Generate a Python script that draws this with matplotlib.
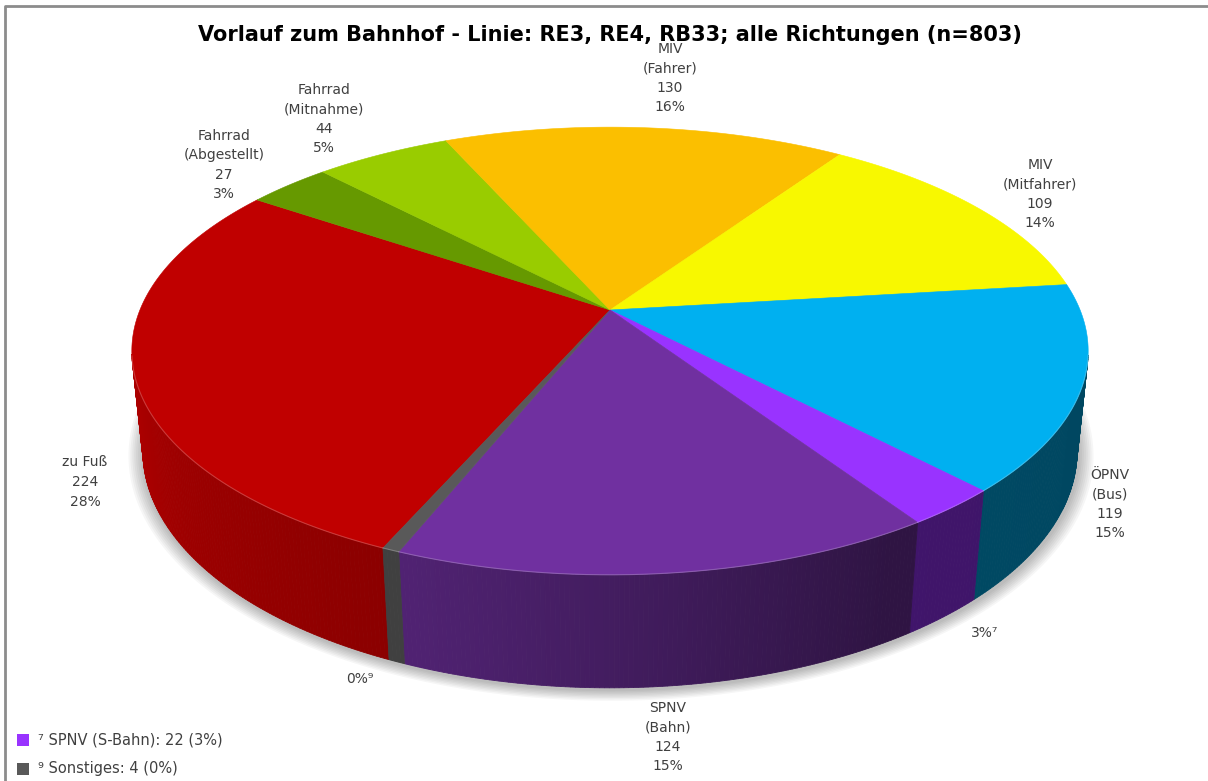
# -*- coding: utf-8 -*-
import numpy as np
import matplotlib.pyplot as plt
from matplotlib.patches import Polygon, Rectangle
import matplotlib.colors as mcolors

title = "Vorlauf zum Bahnhof - Linie: RE3, RE4, RB33; alle Richtungen (n=803)"
names = ["zu Fuß", "Fahrrad\n(Abgestellt)", "Fahrrad\n(Mitnahme)", "MIV\n(Fahrer)",
         "MIV\n(Mitfahrer)", "ÖPNV\n(Bus)", "SPNV (S-Bahn)", "SPNV\n(Bahn)", "Sonstiges"]
counts = [224, 27, 44, 130, 109, 119, 22, 124, 4]
footnotes = ["", "", "", "", "", "", "⁷", "", "⁹"]
colors = ["#C00000", "#669900", "#99CC00", "#FBBF00", "#F8F800",
          "#00B0F0", "#9933FF", "#7030A0", "#595959"]

# label centres (pixels)
label_pos = [(85, 482), (224, 165), (324, 119), (670, 78), (1040, 194),
             (1110, 504), (985, 633), (668, 737), (360, 679)]

# 3d view
cx, cy = 610, 310
F, D = 2280, 4.85
elev = np.radians(27.4)
h = 0.242
start = 246.3


def proj(X, Y, Z):
    yc = Y * np.sin(elev) + Z * np.cos(elev)
    d = D + Y * np.cos(elev) - Z * np.sin(elev)
    return cx + F * X / d, cy - F * yc / d


def shade(t):
    t = t % 360
    return np.interp(t, [190, 215, 248, 270, 300, 350], [0.92, 0.82, 0.72, 0.6, 0.42, 0.4])


total = sum(counts)
cum = np.concatenate([[0], np.cumsum(counts)])
t_hi = start - cum[:-1] * 360 / total
t_lo = start - cum[1:] * 360 / total

fig = plt.figure(figsize=(12.08, 7.81), dpi=100)
ax = fig.add_axes([0, 0, 1, 1])
ax.set_xlim(0, 1208)
ax.set_ylim(781, 0)
ax.axis('off')

# frame
ax.plot([5, 5, 1208], [790, 6, 6], color='#8c8c8c', lw=2, zorder=0)

# soft shadow
tt = np.radians(np.linspace(0, 360, 361))
for k in range(8, 0, -1):
    r = 1 + k * 0.004
    sx, sy = proj(r * np.cos(tt), r * np.sin(tt), -h)
    ax.add_patch(Polygon(np.c_[sx + 1, sy + 2], closed=True, fc='#000000',
                         ec='none', alpha=0.035, zorder=1))

# side walls
for i in range(len(counts)):
    n = max(2, int(np.ceil((t_hi[i] - t_lo[i]) / 0.5)))
    a = np.linspace(t_lo[i], t_hi[i], n + 1)
    base = np.array(mcolors.to_rgb(colors[i]))
    for j in range(n):
        m = np.radians((a[j] + a[j + 1]) / 2)
        if np.sin(m) > -0.2:
            continue
        a0, a1 = np.radians(a[j]), np.radians(a[j + 1])
        xs = np.array([np.cos(a0), np.cos(a1), np.cos(a1), np.cos(a0)])
        ys = np.array([np.sin(a0), np.sin(a1), np.sin(a1), np.sin(a0)])
        zs = np.array([0, 0, -h, -h])
        px, py = proj(xs, ys, zs)
        c = base * shade((a[j] + a[j + 1]) / 2)
        ax.add_patch(Polygon(np.c_[px, py], closed=True, fc=c, ec=c, lw=0.6, zorder=2))

# top faces
for i in range(len(counts)):
    a = np.radians(np.linspace(t_lo[i], t_hi[i], 200))
    px, py = proj(np.cos(a), np.sin(a), 0 * a)
    ax.add_patch(Polygon(np.r_[[[cx, cy]], np.c_[px, py]], closed=True,
                         fc=colors[i], ec=colors[i], lw=0.4, zorder=3))
    # light rim on the front edge
    vis = np.sin(a) < -0.2
    if vis.any():
        lc = 0.55 * np.array(mcolors.to_rgb(colors[i])) + 0.45
        ax.plot(px[vis], py[vis], color=lc, lw=0.8, alpha=0.5, zorder=4)

# labels
txt = dict(fontsize=10, color='#404040', ha='center', va='center',
           family='DejaVu Sans', linespacing=1.5, zorder=6)
legend_items = []
for i in range(len(counts)):
    pct = round(counts[i] / total * 100)
    if footnotes[i]:
        s = f"{pct}%{footnotes[i]}"
        legend_items.append((colors[i], f"{footnotes[i]} {names[i]}: {counts[i]} ({pct}%)"))
    else:
        s = f"{names[i]}\n{counts[i]}\n{pct}%"
    ax.text(label_pos[i][0], label_pos[i][1], s, **txt)

for k, (c, s) in enumerate(legend_items):
    y = 740 + k * 29
    ax.add_patch(Rectangle((17, y - 6), 12, 12, fc=c, ec='none', zorder=6))
    ax.text(38, y, s, fontsize=10.5, color='#404040', ha='left', va='center', zorder=6)

ax.text(610, 35, title, fontsize=15, fontweight='bold', color='black',
        ha='center', va='center', zorder=7)

fig.savefig('out.png', dpi=100)
